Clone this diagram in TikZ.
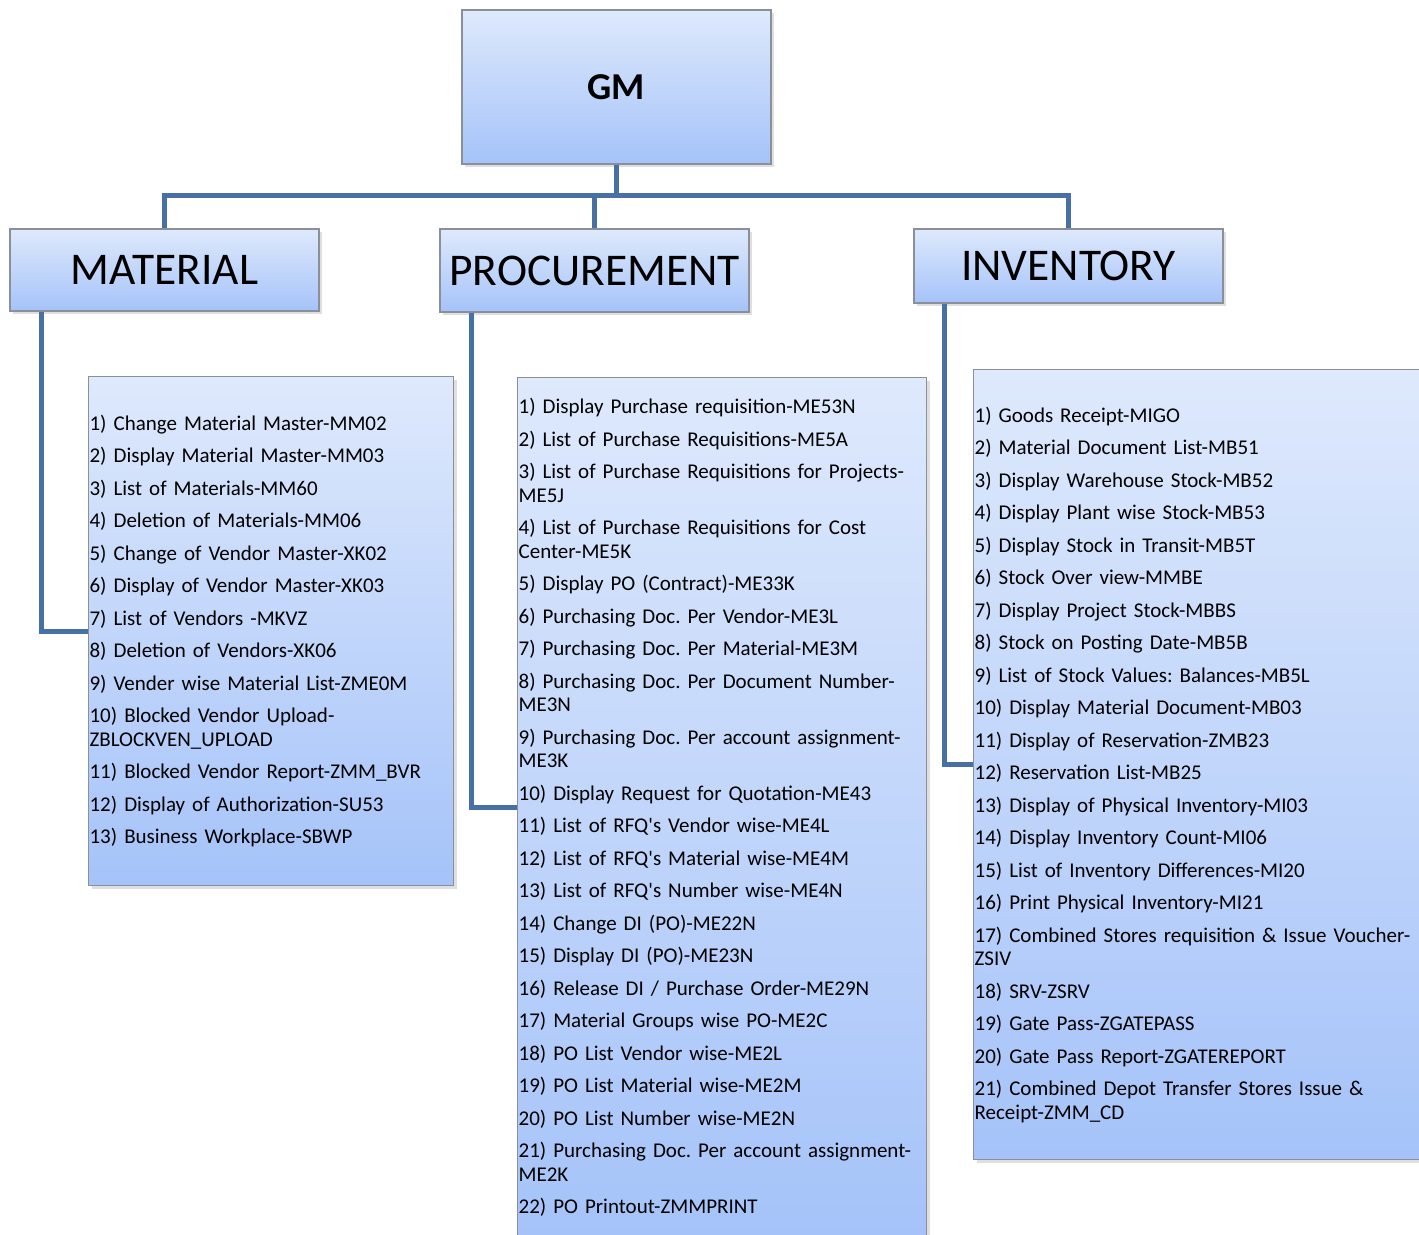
\documentclass[tikz,border=0pt]{standalone}
\usepackage{fontspec}
\setmainfont{Carlito}
\frenchspacing
\usetikzlibrary{calc,shadows}
\definecolor{box-top}{HTML}{DEE9FC}
\definecolor{box-bottom}{HTML}{A5C3F9}
\definecolor{box-line}{HTML}{8A8F99}
\definecolor{link-blue}{HTML}{4770A5}

\begin{document}
\begin{tikzpicture}[
  x=0.5pt, y=-0.5pt,
  panel/.style={rectangle, draw=box-line, line width=0.6pt,
    top color=box-top, bottom color=box-bottom,
    drop shadow={shadow xshift=1.5pt, shadow yshift=-1.5pt, opacity=0.25}},
  head/.style={panel, font=\fontsize{22.7}{26}\selectfont},
  listbox/.style={panel, align=left, anchor=north west, inner xsep=0.4pt,
    font=\fontsize{10.5}{11.75}\selectfont},
  link/.style={draw=link-blue, line width=2.5pt},
]
  \useasboundingbox (0,0) rectangle (1419,1235);

  % top and the three branches
  \node[panel, minimum width=154.5pt, minimum height=77pt,
    font=\fontsize{19}{22}\selectfont\bfseries] (gm) at (616.5,87) {GM};
  \node[head, minimum width=154.5pt, minimum height=41pt] (mat) at (164.5,270) {MATERIAL};
  \node[head, minimum width=154.5pt, minimum height=41.5pt] (proc) at (594.5,270.5) {PROCUREMENT};
  \node[head, minimum width=154.5pt, minimum height=37pt] (inv) at (1068.5,266) {INVENTORY};

  % transaction lists
  \node[listbox, minimum width=182.5pt, minimum height=254.5pt,
    text width=181.5pt] (matlist) at (88,376) {%
    1) Change Material Master-MM02\\[4.5pt]
    2) Display Material Master-MM03\\[4.5pt]
    3) List of Materials-MM60\\[4.5pt]
    4) Deletion of Materials-MM06\\[4.5pt]
    5) Change of Vendor Master-XK02\\[4.5pt]
    6) Display of Vendor Master-XK03\\[4.5pt]
    7) List of Vendors -MKVZ\\[4.5pt]
    8) Deletion of Vendors-XK06\\[4.5pt]
    9) Vender wise Material List-ZME0M\\[4.5pt]
    10) Blocked Vendor Upload-\\ZBLOCKVEN\_UPLOAD\\[4.5pt]
    11) Blocked Vendor Report-ZMM\_BVR\\[4.5pt]
    12) Display of Authorization-SU53\\[4.5pt]
    13) Business Workplace-SBWP};
  \node[listbox, minimum width=204.5pt, minimum height=430pt,
    text width=203.5pt] (proclist) at (517,377) {%
    1) Display Purchase requisition-ME53N\\[4.5pt]
    2) List of Purchase Requisitions-ME5A\\[4.5pt]
    3) List of Purchase Requisitions for Projects-\\ME5J\\[4.5pt]
    4) List of Purchase Requisitions for Cost\\Center-ME5K\\[4.5pt]
    5) Display PO (Contract)-ME33K\\[4.5pt]
    6) Purchasing Doc. Per Vendor-ME3L\\[4.5pt]
    7) Purchasing Doc. Per Material-ME3M\\[4.5pt]
    8) Purchasing Doc. Per Document Number-\\ME3N\\[4.5pt]
    9) Purchasing Doc. Per account assignment-\\ME3K\\[4.5pt]
    10) Display Request for Quotation-ME43\\[4.5pt]
    11) List of RFQ\textquotesingle s Vendor wise-ME4L\\[4.5pt]
    12) List of RFQ\textquotesingle s Material wise-ME4M\\[4.5pt]
    13) List of RFQ\textquotesingle s Number wise-ME4N\\[4.5pt]
    14) Change DI (PO)-ME22N\\[4.5pt]
    15) Display DI (PO)-ME23N\\[4.5pt]
    16) Release DI / Purchase Order-ME29N\\[4.5pt]
    17) Material Groups wise PO-ME2C\\[4.5pt]
    18) PO List Vendor wise-ME2L\\[4.5pt]
    19) PO List Material wise-ME2M\\[4.5pt]
    20) PO List Number wise-ME2N\\[4.5pt]
    21) Purchasing Doc. Per account assignment-\\ME2K\\[4.5pt]
    22) PO Printout-ZMMPRINT};
  \node[listbox, minimum width=226pt, minimum height=395pt,
    text width=225pt] (invlist) at (973,369) {%
    1) Goods Receipt-MIGO\\[4.5pt]
    2) Material Document List-MB51\\[4.5pt]
    3) Display Warehouse Stock-MB52\\[4.5pt]
    4) Display Plant wise Stock-MB53\\[4.5pt]
    5) Display Stock in Transit-MB5T\\[4.5pt]
    6) Stock Over view-MMBE\\[4.5pt]
    7) Display Project Stock-MBBS\\[4.5pt]
    8) Stock on Posting Date-MB5B\\[4.5pt]
    9) List of Stock Values: Balances-MB5L\\[4.5pt]
    10) Display Material Document-MB03\\[4.5pt]
    11) Display of Reservation-ZMB23\\[4.5pt]
    12) Reservation List-MB25\\[4.5pt]
    13) Display of Physical Inventory-MI03\\[4.5pt]
    14) Display Inventory Count-MI06\\[4.5pt]
    15) List of Inventory Differences-MI20\\[4.5pt]
    16) Print Physical Inventory-MI21\\[4.5pt]
    17) Combined Stores requisition \& Issue Voucher-\\ZSIV\\[4.5pt]
    18) SRV-ZSRV\\[4.5pt]
    19) Gate Pass-ZGATEPASS\\[4.5pt]
    20) Gate Pass Report-ZGATEREPORT\\[4.5pt]
    21) Combined Depot Transfer Stores Issue \&\\Receipt-ZMM\_CD};

  % connectors
  \coordinate (bus) at (616.5,196);
  \coordinate (matdrop) at ($(mat.south west)+(32,0)$);
  \coordinate (procdrop) at ($(proc.south west)+(32,0)$);
  \coordinate (invdrop) at ($(inv.south west)+(31,0)$);
  \draw[link] (gm.south) -- (bus);
  \draw[link] (mat.north) -- (mat.north |- bus) -- (inv.north |- bus) -- (inv.north);
  \draw[link] (proc.north) -- (proc.north |- bus);
  \draw[link] (matdrop) |- (matlist.west);
  \draw[link] (procdrop) |- (proclist.west);
  \draw[link] (invdrop) |- (invlist.west);
\end{tikzpicture}
\end{document}
